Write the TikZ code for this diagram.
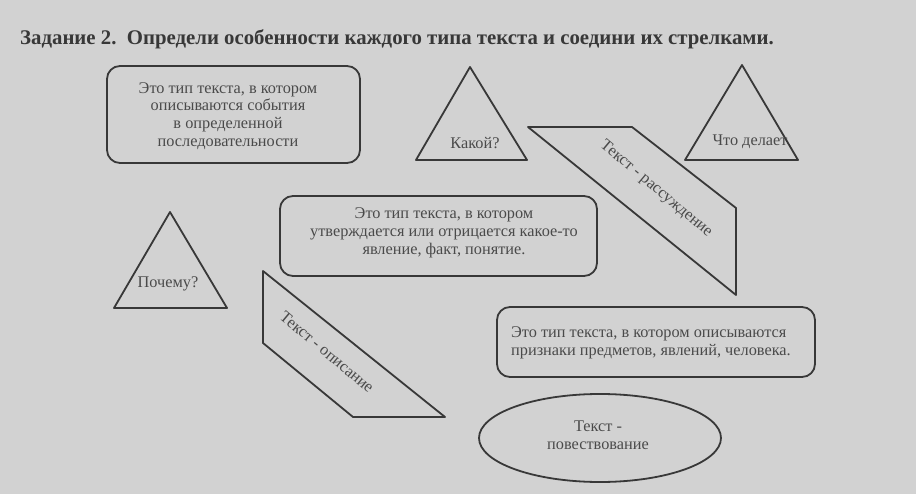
\documentclass[tikz,border=0pt]{standalone}
\usepackage{fontspec}
\setmainfont{Liberation Serif}
\definecolor{paper}{HTML}{D2D2D2}
\definecolor{ink}{HTML}{383838}
\definecolor{txt}{HTML}{4A4A4A}
\begin{document}
\begin{tikzpicture}[x=1pt,y=-1pt,
  shapeline/.style={draw=ink,line width=1.8pt,line join=round},
  body/.style={font=\fontsize{16.3}{17.8}\selectfont,text=txt,inner sep=0pt,align=center},
  label/.style={font=\fontsize{16.3}{17.8}\selectfont,text=txt,inner sep=0pt}]
\fill[paper] (0,0) rectangle (916,494);
\useasboundingbox (0,0) rectangle (916,494);
% title
\node[anchor=base west,inner sep=0pt,text=ink,font=\bfseries\fontsize{20.8}{22}\selectfont] (title) at (20,45)
  {Задание 2.\ \ Определи особенности каждого типа текста и соедини их стрелками.};
% box 1
\draw[shapeline,rounded corners=13pt] (107,66) rectangle (360,163);
\node[body] (b1) at (228,116) {Это тип текста, в котором\\описываются события\\в определенной\\последовательности};
% triangle Какой
\draw[shapeline] (470,67) -- (527,160) -- (416,160) -- cycle;
\node[label] (kakoi) at (475,143) {Какой?};
% parallelogram рассуждение
\draw[shapeline] (528,127) -- (632,127) -- (736,208) -- (736,295) -- cycle;
\node[label,rotate=-40] (rass) at (656,189) {Текст - рассуждение};
% triangle Что делает
\draw[shapeline] (742,65) -- (798,160) -- (685,160) -- cycle;
\node[label] (chto) at (750,142) {Что делает};
% box 2
\draw[shapeline,rounded corners=13pt] (280,196) rectangle (597,276);
\node[body] (b2) at (444,233) {Это тип текста, в котором\\утверждается или отрицается какое-то\\явление, факт, понятие.};
% triangle Почему
\draw[shapeline] (170,212) -- (227,308) -- (114,308) -- cycle;
\node[label] (pochemu) at (168,284) {Почему?};
% shape описание
\draw[shapeline] (263,271) -- (445,417) -- (353,417) -- (263,343) -- cycle;
\node[label,rotate=-40] (opis) at (327,352) {Текст - описание};
% box 3
\draw[shapeline,rounded corners=13pt] (497,307) rectangle (815,377);
\node[body,align=left,anchor=west] (b3) at (511,343) {Это тип текста, в котором описываются\\признаки предметов, явлений, человека.};
% ellipse
\draw[shapeline] (600,438) ellipse [x radius=121, y radius=44];
\node[body] (povest) at (598,435) {Текст -\\повествование};
\end{tikzpicture}
\end{document}
